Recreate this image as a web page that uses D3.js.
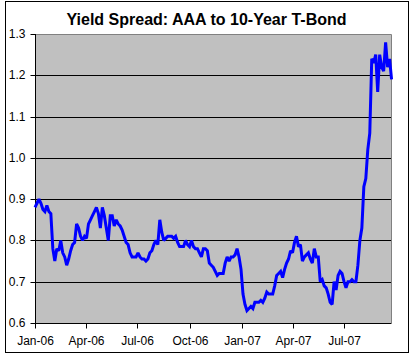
<!DOCTYPE html>
<html><head><meta charset="utf-8">
<script src="https://cdn.jsdelivr.net/npm/d3@7"></script>
<style>
html,body{margin:0;padding:0;background:#fff;}
svg{display:block;font-family:Arial,"Liberation Sans",sans-serif;}
</style></head>
<body><svg id="chart" width="418" height="359"></svg>
<script>
const title = "Yield Spread: AAA to 10-Year T-Bond";
const startDate = "2006-01-01";
const endDate = "2007-09-22";
const stepDays = 3.5;
const spread = [
0.88,0.89,0.90,0.89,0.875,0.87,0.885,0.87,0.865,0.78,
0.75,0.78,0.775,0.80,0.77,0.76,0.74,0.755,0.775,0.79,
0.795,0.84,0.83,0.81,0.80,0.81,0.805,0.84,0.85,0.86,
0.87,0.88,0.865,0.83,0.88,0.86,0.83,0.80,0.86,0.86,
0.835,0.85,0.84,0.835,0.825,0.81,0.795,0.79,0.77,0.76,
0.76,0.76,0.77,0.76,0.755,0.755,0.75,0.755,0.77,0.775,
0.79,0.80,0.79,0.85,0.82,0.80,0.805,0.81,0.81,0.81,
0.805,0.81,0.795,0.785,0.785,0.785,0.80,0.79,0.785,0.80,
0.785,0.78,0.78,0.77,0.76,0.78,0.78,0.775,0.745,0.74,
0.735,0.725,0.715,0.72,0.72,0.72,0.745,0.76,0.75,0.76,
0.76,0.765,0.78,0.76,0.73,0.67,0.645,0.63,0.635,0.64,
0.635,0.65,0.65,0.65,0.655,0.65,0.66,0.675,0.67,0.67,
0.67,0.69,0.715,0.72,0.725,0.71,0.73,0.745,0.755,0.775,
0.77,0.795,0.81,0.785,0.79,0.75,0.76,0.765,0.77,0.755,
0.745,0.78,0.76,0.76,0.70,0.705,0.69,0.685,0.67,0.65,
0.645,0.70,0.68,0.715,0.725,0.72,0.70,0.685,0.70,0.70,
0.705,0.70,0.70,0.74,0.80,0.83,0.93,0.95,1.02,1.06,
1.24,1.23,1.25,1.16,1.25,1.22,1.21,1.28,1.22,1.24,1.19
];
const yTicks = [0.6,0.7,0.8,0.9,1.0,1.1,1.2,1.3];

const parse = d3.utcParse("%Y-%m-%d");
const t0 = parse(startDate);
const data = spread.map((v,i)=>({date:new Date(t0.getTime()+i*stepDays*864e5), value:v}));

const svg = d3.select("#chart");
const L=35, R=391, T=34, B=323;

// outer border
svg.append("rect").attr("x",5.5).attr("y",1.5).attr("width",403).attr("height",351)
  .attr("fill","#fff").attr("stroke","#000").attr("stroke-width",1);

const x = d3.scaleUtc().domain([t0, parse(endDate)]).range([L,R]);
const y = d3.scaleLinear().domain([0.6,1.3]).range([B,T]);

// plot area
svg.append("rect").attr("x",L).attr("y",T).attr("width",R-L).attr("height",B-T).attr("fill","#C0C0C0");
// plot border top/right gray
svg.append("path").attr("d",`M${L},${T+0.5}H${R+0.5}V${B}`).attr("fill","none").attr("stroke","#808080");

// gridlines
svg.append("g").selectAll("line").data(yTicks.filter(d=>d>0.6 && d<1.3)).join("line")
  .attr("x1",L).attr("x2",R).attr("y1",d=>Math.round(y(d))+0.5).attr("y2",d=>Math.round(y(d))+0.5)
  .attr("stroke","#000").attr("stroke-width",1);

// y axis
const yAxis = d3.axisLeft(y).tickValues(yTicks).tickFormat(d3.format(".1f")).tickSizeOuter(0).tickSize(5).tickPadding(5);
const gy = svg.append("g").attr("transform",`translate(${L+0.5},0)`).call(yAxis);
gy.selectAll(".tick").attr("transform",d=>`translate(0,${Math.round(y(d))+0.5})`);
gy.select(".domain").attr("d",`M0,${T}V${B+0.5}`).attr("stroke","#000");
gy.selectAll("text").attr("font-size",12).attr("fill","#000").attr("font-family","Arial, 'Liberation Sans', sans-serif");
gy.selectAll("line").attr("stroke","#000");

// x axis
const xTicks = d3.utcMonth.every(3).range(t0, parse(endDate));
const xAxis = d3.axisBottom(x).tickValues(xTicks).tickFormat(d3.utcFormat("%b-%y")).tickSizeOuter(0).tickSize(5).tickPadding(8);
const gx = svg.append("g").attr("transform",`translate(0,${B+0.5})`).call(xAxis);
gx.selectAll(".tick").attr("transform",d=>`translate(${Math.round(x(d))+0.5},0)`);
gx.select(".domain").attr("d",`M${L},0H${R+0.5}`).attr("stroke","#000");
gx.selectAll("text").attr("font-size",12).attr("fill","#000").attr("font-family","Arial, 'Liberation Sans', sans-serif");
gx.selectAll("line").attr("stroke","#000");

// line
const line = d3.line().x(d=>x(d.date)).y(d=>y(d.value));
svg.append("path").datum(data).attr("d",line).attr("fill","none")
  .attr("stroke","#0000FF").attr("stroke-width",3).attr("stroke-linejoin","miter").attr("stroke-miterlimit",2);

// title
svg.append("text").attr("x",206.5).attr("y",25).attr("text-anchor","middle")
  .attr("font-size",16).attr("font-weight","bold").attr("fill","#000").text(title);
</script></body></html>
